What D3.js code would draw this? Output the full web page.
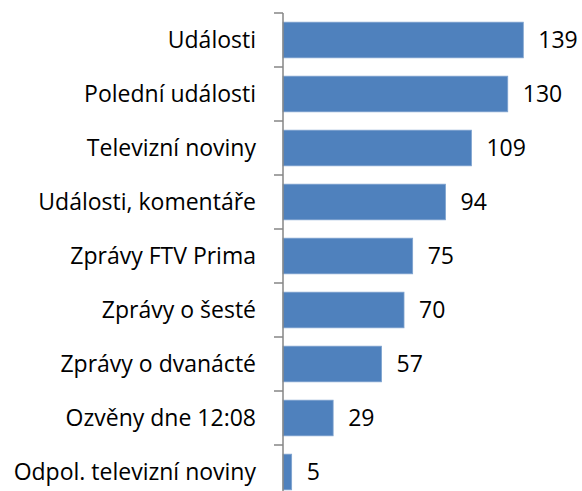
<!DOCTYPE html>
<html>
<head>
<meta charset="utf-8">
<script src="https://cdn.jsdelivr.net/npm/d3@7"></script>
<style>
  body { margin: 0; background: #fff; }
  svg { display: block; }
</style>
</head>
<body>
<script>
// data
const categories = ['Události', 'Polední události', 'Televizní noviny', 'Události, komentáře',
  'Zprávy FTV Prima', 'Zprávy o šesté', 'Zprávy o dvanácté', 'Ozvěny dne 12:08', 'Odpol. televizní noviny'];
const values = [139, 130, 109, 94, 75, 70, 57, 29, 5];

const width = 582, height = 491;
const axisX = 283;
const yTop = 13, yBottom = 499;
const fontSize = '23px';

const svg = d3.select('body').append('svg')
  .attr('width', width).attr('height', height)
  .style('font-family', '"Open Sans", "Noto Sans", sans-serif');

const y = d3.scaleBand().domain(categories).range([yTop, yBottom])
  .paddingInner(0.34).paddingOuter(0.17);
const x = d3.scaleLinear().domain([0, 160]).range([axisX, axisX + 276.6]);

svg.selectAll('rect.bar')
  .data(values)
  .enter()
  .append('rect')
  .attr('class', 'bar')
  .attr('x', x(0))
  .attr('y', (d, i) => y(categories[i]))
  .attr('width', d => x(d) - x(0))
  .attr('height', y.bandwidth())
  .attr('fill', '#4f81bd')
  .attr('stroke', '#7ea3cf')
  .attr('stroke-width', 0.8);

svg.selectAll('text.val')
  .data(values)
  .enter()
  .append('text')
  .attr('class', 'val')
  .attr('x', d => x(d) + 15)
  .attr('y', (d, i) => y(categories[i]) + y.bandwidth() / 2)
  .attr('dy', '0.35em')
  .style('font-size', fontSize)
  .attr('fill', '#000')
  .text(d => d);

// category axis with ticks between bands
const axis = svg.append('g');
axis.append('line')
  .attr('x1', axisX).attr('x2', axisX)
  .attr('y1', yTop).attr('y2', yBottom)
  .attr('stroke', '#868686').attr('stroke-width', 1.5);

const edges = d3.range(categories.length + 1).map(i => yTop + i * y.step());
axis.selectAll('line.tick')
  .data(edges)
  .enter()
  .append('line')
  .attr('class', 'tick')
  .attr('x1', axisX - 9).attr('x2', axisX)
  .attr('y1', d => d).attr('y2', d => d)
  .attr('stroke', '#868686').attr('stroke-width', 1.5);

axis.selectAll('text.cat')
  .data(categories)
  .enter()
  .append('text')
  .attr('class', 'cat')
  .attr('x', 256)
  .attr('y', d => y(d) + y.bandwidth() / 2)
  .attr('dy', '0.35em')
  .attr('text-anchor', 'end')
  .style('font-size', fontSize)
  .attr('fill', '#000')
  .text(d => d);
</script>
</body>
</html>
